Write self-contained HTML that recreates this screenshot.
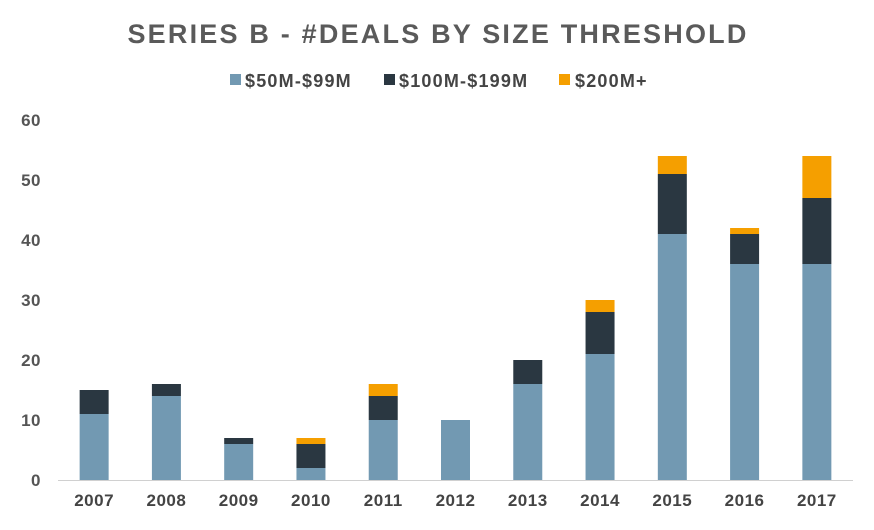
<!DOCTYPE html>
<html><head><meta charset="utf-8"><style>
body{margin:0;background:#fff;width:874px;height:525px;overflow:hidden;font-family:"Liberation Sans",sans-serif}
</style></head><body>
<svg id="chart" width="874" height="525" xmlns="http://www.w3.org/2000/svg">
<text x="438" y="43" text-anchor="middle" font-size="27" font-weight="bold" fill="#5a5a5a" letter-spacing="2.2">SERIES B - #DEALS BY SIZE THRESHOLD</text>
<g font-size="18" font-weight="bold" fill="#444" letter-spacing="1.2">
<g><rect x="230" y="74" width="11" height="11" fill="#7299b2"/><text x="245" y="87" fill="#444">$50M-$99M</text></g>
<g><rect x="384" y="74" width="11" height="11" fill="#2a3741"/><text x="399" y="87" fill="#444">$100M-$199M</text></g>
<g><rect x="559" y="74" width="11" height="11" fill="#f59f00"/><text x="575" y="87" fill="#444">$200M+</text></g>
</g>
<g id="plot"></g>
</svg>
<script>
const categories=["2007","2008","2009","2010","2011","2012","2013","2014","2015","2016","2017"];
const small=[11,14,6,2,10,10,16,21,41,36,36];
const mid=[4,2,1,4,4,0,4,7,10,5,11];
const large=[0,0,0,1,2,0,0,2,3,1,7];
const yTicks=[0,10,20,30,40,50,60];
const colors=["#7299b2","#2a3741","#f59f00"];
const names=["50-99","100-199","200-plus"];
const ns="http://www.w3.org/2000/svg";
const left=58,right=853,y0=480,yMax=60,yTop=120;
const y=v=>y0-(v/yMax)*(y0-yTop);
const step=(right-left)/categories.length;
const x=i=>left+step*(i+0.5);
const g=document.getElementById('plot');
function mk(t,a){const e=document.createElementNS(ns,t);for(const k in a)e.setAttribute(k,a[k]);g.appendChild(e);return e;}
yTicks.forEach(t=>{const e=mk('text',{x:41,y:y(t)+6,'text-anchor':'end','font-size':17,'font-weight':'bold',fill:'#555','letter-spacing':0.5});e.textContent=t;

});
const series=[small,mid,large];
categories.forEach((c,i)=>{let base=0;const bw=29;
series.forEach((s,k)=>{if(s[i]>0){const r=mk('rect',{x:x(i)-bw/2,y:y(base+s[i]),width:bw,height:y(base)-y(base+s[i]),fill:colors[k]});

}base+=s[i];});
const t=mk('text',{x:x(i),y:506,'text-anchor':'middle','font-size':17,'font-weight':'bold',fill:'#444','letter-spacing':0.5});t.textContent=c;

});
const ax=mk('line',{x1:left,x2:right,y1:y0+0.5,y2:y0+0.5,stroke:'#d0d0d0','stroke-width':1});


</script>
</body></html>
